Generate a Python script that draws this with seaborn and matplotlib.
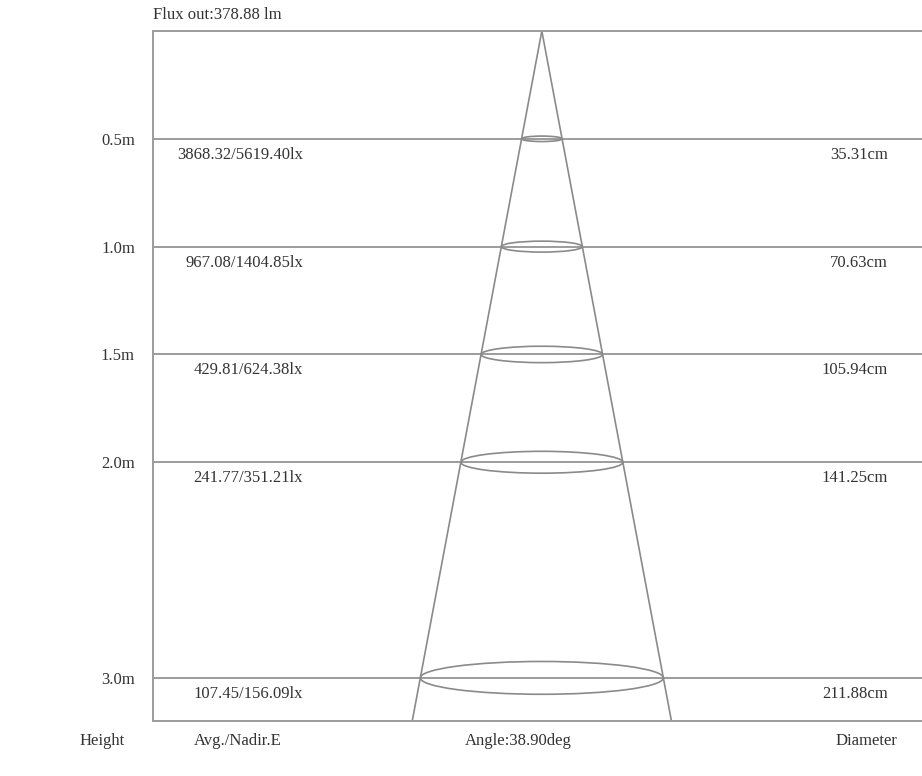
import numpy as np
import pandas as pd
import matplotlib
matplotlib.use("Agg")
import matplotlib.pyplot as plt
import seaborn as sns
from matplotlib.patches import Ellipse
from matplotlib import transforms

# ---- data ----
heights_m = [0.5, 1.0, 1.5, 2.0, 3.0]
height_labels = ["0.5m", "1.0m", "1.5m", "2.0m", "3.0m"]
illum_labels = ["3868.32/5619.40lx", "967.08/1404.85lx", "429.81/624.38lx",
                "241.77/351.21lx", "107.45/156.09lx"]
diameters_cm = [35.31, 70.63, 105.94, 141.25, 211.88]
diameter_labels = ["35.31cm", "70.63cm", "105.94cm", "141.25cm", "211.88cm"]
beam_angle_deg = 38.90
flux_lm = 378.88
max_height_m = 3.2

# ---- style ----
sns.set_theme(style="white")
plt.rcParams['font.family'] = ['Liberation Serif', 'DejaVu Serif']
LINE = "#9c9c9c"
CONE = "#8a8a8a"
TXT = "#333333"
FS = 12

W, H = 922, 776
fig = plt.figure(figsize=(W / 100, H / 100), dpi=100)
pxcm = 1.147
xhalf = 339
ax = fig.add_axes([153 / W, 55 / H, 2 * xhalf * pxcm / W, 690 / H])
ax.set_xlim(-xhalf, xhalf)
ax.set_ylim(max_height_m, 0)

for s in ["left", "top", "bottom", "right"]:
    ax.spines[s].set_color(LINE)
    ax.spines[s].set_linewidth(1.4)
ax.spines["right"].set_visible(False)

# horizontal height lines
for h in heights_m:
    ax.axhline(h, color=LINE, lw=1.4, zorder=1)

# cone edges
half = np.tan(np.radians(beam_angle_deg / 2)) * max_height_m * 100
cone = pd.DataFrame({
    "x": [0, -half, 0, half],
    "y": [0, max_height_m, 0, max_height_m],
    "side": ["L", "L", "R", "R"],
})
sns.lineplot(data=cone, x="x", y="y", units="side", estimator=None,
             color=CONE, lw=1.2, ax=ax, sort=False, zorder=2)

# ellipses
for h, d in zip(heights_m, diameters_cm):
    ell = Ellipse((0, h), width=d, height=d * 0.000718, fill=False,
                  edgecolor=CONE, lw=1.2, zorder=3)
    ax.add_patch(ell)

# y tick labels (heights)
ax.set_yticks(heights_m)
ax.set_yticklabels(height_labels, fontsize=FS, color=TXT)
ax.set_xticks([])
ax.tick_params(axis="y", length=0, pad=13)
ax.set_xlabel("")
ax.set_ylabel("")

# illuminance / diameter labels below each line
below = transforms.offset_copy(ax.transData, fig=fig, x=0, y=-16, units="dots")
tl = transforms.blended_transform_factory(fig.transFigure, below)
for h, lab, dl in zip(heights_m, illum_labels, diameter_labels):
    ax.text(303 / W, h, lab, transform=tl, ha="right", va="center",
            fontsize=FS, color=TXT)
    ax.text(888 / W, h, dl, transform=tl, ha="right", va="center",
            fontsize=FS, color=TXT)

# top and bottom captions
fig.text(153 / W, 1 - 15 / H, f"Flux out:{flux_lm:.2f} lm", ha="left",
         va="center", fontsize=FS, color=TXT)
yb = 1 - 741 / H
fig.text(102 / W, yb, "Height", ha="center", va="center", fontsize=FS, color=TXT)
fig.text(238 / W, yb, "Avg./Nadir.E", ha="center", va="center", fontsize=FS, color=TXT)
fig.text(518 / W, yb, f"Angle:{beam_angle_deg:.2f}deg", ha="center", va="center",
         fontsize=FS, color=TXT)
fig.text(866 / W, yb, "Diameter", ha="center", va="center", fontsize=FS, color=TXT)

fig.savefig("out.png", dpi=100)
